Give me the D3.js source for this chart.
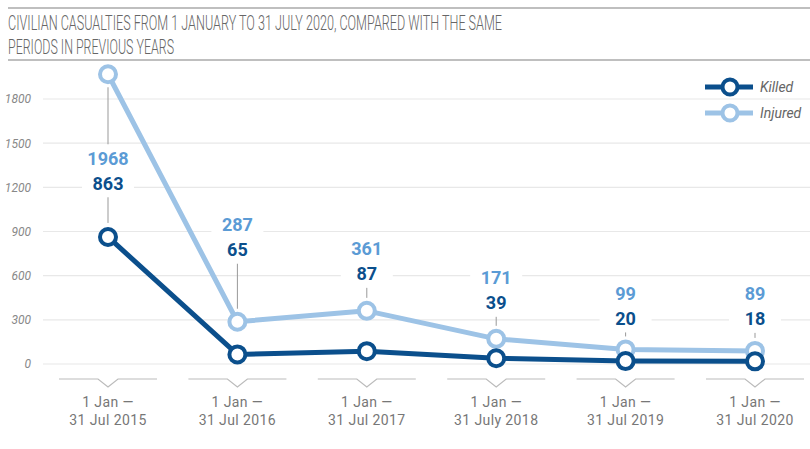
<!DOCTYPE html>
<html>
<head>
<meta charset="utf-8">
<script src="https://cdn.jsdelivr.net/npm/d3@7"></script>
<style>
  html, body { margin: 0; padding: 0; background: #fff; }
  svg { display: block; font-family: Roboto, "Noto Sans", sans-serif; }
</style>
</head>
<body>
<div id="chart"></div>
<script>
const titleLines = [
  "CIVILIAN CASUALTIES FROM 1 JANUARY TO 31 JULY 2020, COMPARED WITH THE SAME",
  "PERIODS IN PREVIOUS YEARS"
]
const periodStart = ["1 Jan —", "1 Jan —", "1 Jan —", "1 Jan —", "1 Jan —", "1 Jan —"]
const periodEnd = ["31 Jul 2015", "31 Jul 2016", "31 Jul 2017", "31 July 2018", "31 Jul 2019", "31 Jul 2020"]
const killed = [863, 65, 87, 39, 20, 18]
const injured = [1968, 287, 361, 171, 99, 89]
const yTicks = [0, 300, 600, 900, 1200, 1500, 1800]
const seriesNames = ["Killed", "Injured"]

// layout (pixels) — how far the label pair sits above the injured point
const labelLift = [-109, 72, 37, 36, 31, 32]

const width = 810, height = 449
const colors = { killed: "#0b4f8c", injured: "#9dc3e6", injuredText: "#5b9bd5" }

const svg = d3.select("#chart").append("svg")
  .attr("width", width).attr("height", height)

// title + rules
svg.append("line").attr("x1", 8).attr("x2", width).attr("y1", 8).attr("y2", 8)
  .attr("stroke", "#aaa").attr("stroke-width", 1.5)
svg.append("line").attr("x1", 8).attr("x2", width).attr("y1", 60).attr("y2", 60)
  .attr("stroke", "#aaa").attr("stroke-width", 1.5)
const titleWidths = [494, 166]
titleLines.forEach((t, i) => {
  svg.append("text")
    .attr("x", 8).attr("y", 30 + i * 24)
    .attr("textLength", titleWidths[i]).attr("lengthAdjust", "spacingAndGlyphs")
    .attr("font-size", 20).attr("font-weight", 300).attr("fill", "#666")
    .text(t)
})

const x = d3.scalePoint().domain(d3.range(killed.length)).range([108, 755])
const y = d3.scaleLinear().domain([0, 1800]).range([364, 99])

// gridlines
svg.append("g").selectAll("line").data(yTicks).join("line")
  .attr("x1", 43).attr("x2", width)
  .attr("y1", d => y(d)).attr("y2", d => y(d))
  .attr("stroke", "#e8e8e8").attr("stroke-width", 1.2)

const yAxis = d3.axisLeft(y).tickValues(yTicks).tickFormat(d3.format("d")).tickSize(0).tickPadding(0)
svg.append("g").attr("transform", "translate(31,0)").call(yAxis)
  .call(g => g.select(".domain").remove())
  .selectAll("text")
  .attr("font-family", "Roboto, sans-serif")
  .attr("font-style", "italic").attr("font-size", 12).attr("fill", "#888")

// x brackets and labels
const xg = svg.append("g").selectAll("g").data(d3.range(killed.length)).join("g")
  .attr("transform", d => `translate(${x(d)},0)`)
xg.append("path")
  .attr("d", "M-49,379H-10L0,387L10,379H49")
  .attr("fill", "none").attr("stroke", "#bbb").attr("stroke-width", 1.2)
xg.append("text").attr("y", 402).attr("dy", "0.35em").attr("text-anchor", "middle")
  .attr("font-size", 14).attr("letter-spacing", 0.4).attr("fill", "#777")
  .text(d => periodStart[d])
xg.append("text").attr("y", 420).attr("dy", "0.35em").attr("text-anchor", "middle")
  .attr("font-size", 14).attr("letter-spacing", 0.4).attr("fill", "#777")
  .text(d => periodEnd[d])

// lines
const line = d3.line().x((d, i) => x(i)).y(d => y(d))
const series = [
  { key: "injured", values: injured },
  { key: "killed", values: killed }
]
series.forEach(s => {
  svg.append("path").datum(s.values)
    .attr("d", line)
    .attr("fill", "none").attr("stroke", colors[s.key])
    .attr("stroke-width", 5).attr("stroke-linejoin", "round")
})

// annotations
const ann = svg.append("g")
d3.range(killed.length).forEach(i => {
  const cx = x(i)
  const yi = y(injured[i]), yk = y(killed[i])
  const kLabel = yi - labelLift[i]
  const iLabel = kLabel - 25
  const top = iLabel - 14, bottom = kLabel + 14
  if (labelLift[i] < 0) {
    ann.append("line").attr("x1", cx).attr("x2", cx).attr("y1", yi + 13).attr("y2", top)
      .attr("stroke", "#999")
    ann.append("line").attr("x1", cx).attr("x2", cx).attr("y1", bottom).attr("y2", yk - 14)
      .attr("stroke", "#999")
  } else {
    ann.append("line").attr("x1", cx).attr("x2", cx).attr("y1", bottom).attr("y2", yi - 13)
      .attr("stroke", "#999")
  }
  ann.append("rect").attr("x", cx - 26).attr("y", top + 2).attr("width", 52)
    .attr("height", bottom - top - 4).attr("fill", "#fff")
  ann.append("text").attr("x", cx).attr("y", iLabel).attr("dy", "0.36em")
    .attr("text-anchor", "middle").attr("font-size", 18).attr("font-weight", "bold")
    .attr("fill", colors.injuredText).text(injured[i])
  ann.append("text").attr("x", cx).attr("y", kLabel).attr("dy", "0.36em")
    .attr("text-anchor", "middle").attr("font-size", 18).attr("font-weight", "bold")
    .attr("fill", colors.killed).text(killed[i])
})

// points
series.forEach(s => {
  svg.append("g").selectAll("circle").data(s.values).join("circle")
    .attr("cx", (d, i) => x(i)).attr("cy", d => y(d)).attr("r", 8)
    .attr("fill", "#fff").attr("stroke", colors[s.key]).attr("stroke-width", 4)
})

// legend
const legend = svg.append("g").selectAll("g").data(series.slice().reverse()).join("g")
  .attr("transform", (d, i) => `translate(0,${87 + i * 26})`)
legend.append("line").attr("x1", 705).attr("x2", 753)
  .attr("stroke", d => colors[d.key]).attr("stroke-width", 5)
legend.append("circle").attr("cx", 730).attr("r", 7.5)
  .attr("fill", "#fff").attr("stroke", d => colors[d.key]).attr("stroke-width", 4)
legend.append("text").attr("x", 760).attr("dy", "0.35em")
  .attr("font-size", 14).attr("font-style", "italic").attr("fill", "#666")
  .text((d, i) => seriesNames[i])
</script>
</body>
</html>
